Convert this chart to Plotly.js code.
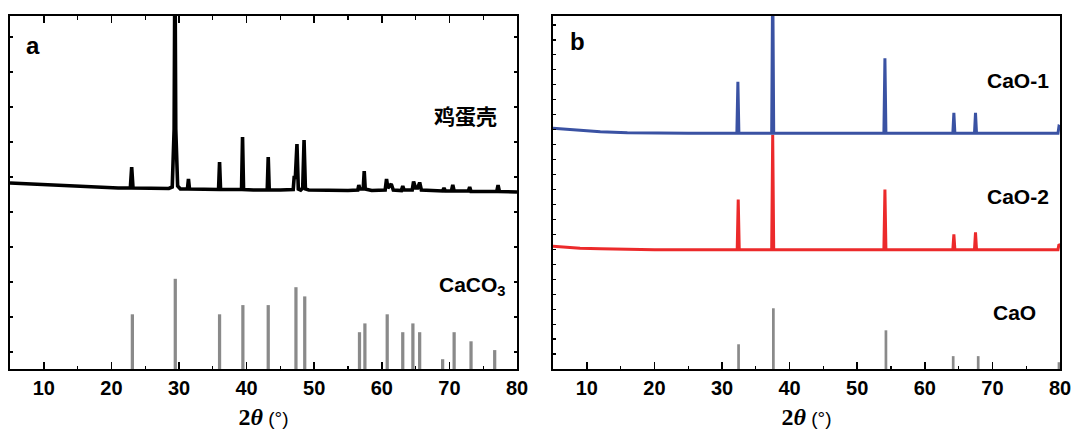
<!DOCTYPE html>
<html>
<head>
<meta charset="utf-8">
<script src="https://cdn.plot.ly/plotly-3.0.1.min.js"></script>
<style>html,body{margin:0;padding:0;background:#fff;}#chart{width:1073px;height:433px;}</style>
</head>
<body>
<div id="chart"></div>
<script>
// ---- Panel a: eggshell XRD pattern (2θ, intensity a.u.) ----
const eggX = [5,6.5,8,10,12.5,15,18,21,22.8,23.0,23.2,26,28.5,29.0,29.28,29.4,29.52,29.8,30.2,31.25,31.4,31.55,34,35.85,36.0,36.15,38,39.25,39.4,39.55,41,43.05,43.2,43.35,45,46.9,47.05,47.2,47.45,47.65,48.0,48.3,48.5,48.7,49.2,52,55,56.45,56.6,56.75,57.25,57.4,57.55,58.5,60.5,60.7,60.9,61.4,61.7,62.9,63.1,63.3,64.5,64.7,65.0,65.3,65.6,65.85,69.0,69.2,69.4,70.3,70.5,70.7,72.8,73.0,73.2,77.0,77.2,77.4,80];
const eggY = [186,185.5,185,184,183,182.3,181.5,181,181,202,181,180.5,180.5,182,240,420,240,183,180,180,190,180,179.5,179.5,207,179.5,179.5,179.5,232,179.5,179,179,212,179,179,179.5,193,190,225,180,179,181,229,180,179,178.5,178.5,179,184,180,180,198,180,178.5,179,190,181,185,179,178.5,183,179,179,187.5,181,181,186.5,179,178,181,178,178,184,178,178,182,177.5,177.5,184,177.5,177];

// CaCO3 reference sticks
const caco3X = [23.1,29.45,36.0,39.45,43.2,47.3,48.6,56.7,57.5,60.8,63.1,64.6,65.6,69.0,70.7,73.2,76.7];
const caco3Y = [54.7,90.2,54.7,63.9,63.9,81.8,72.6,36.8,45.6,54.7,36.8,45.6,36.8,9.8,36.8,27.7,18.9];

// ---- Panel b ----
const cao1X = [5,7,9,12,16,20,25,32.2,32.35,32.5,37.35,37.5,37.65,53.95,54.1,54.25,64.15,64.3,64.45,67.35,67.5,67.65,79.7,79.85,80];
const cao1Y = [241.5,240.3,239.2,238,237,236.5,236.3,236.3,288,236.3,236.3,400,236.3,236.3,311.5,236.3,236.3,257,236.3,236.3,257,236.3,236.3,243.5,243];

const cao2X = [5,7,9,12,16,20,32.25,32.4,32.55,37.35,37.5,37.65,53.95,54.1,54.25,64.15,64.3,64.45,67.35,67.5,67.65,79.7,79.85,80];
const cao2Y = [123,122,121.2,120.5,120,119.7,119.7,170,119.7,119.7,235,119.7,119.7,180,119.7,119.7,135,119.7,119.7,137,119.7,119.7,125,124];

// CaO reference sticks
const caoX = [32.45,37.6,54.25,64.2,67.9,79.85];
const caoY = [24.8,60.9,38.8,12.9,12.9,6.8];

const tickLabels = ['10','20','30','40','50','60','70','80'];
const tickVals = [10,20,30,40,50,60,70,80];

const traces = [
  {type:'bar', x:caco3X, y:caco3Y, xaxis:'x', yaxis:'y', width:0.48, marker:{color:'#8a8a8a', line:{width:0}}, hoverinfo:'skip'},
  {type:'scatter', mode:'lines', x:eggX, y:eggY, xaxis:'x', yaxis:'y', line:{color:'#000000', width:3.6}},
  {type:'bar', x:caoX, y:caoY, xaxis:'x2', yaxis:'y2', width:0.4, marker:{color:'#8a8a8a', line:{width:0}}, hoverinfo:'skip'},
  {type:'scatter', mode:'lines', x:cao2X, y:cao2Y, xaxis:'x2', yaxis:'y2', line:{color:'#ec2a2b', width:3}},
  {type:'scatter', mode:'lines', x:cao1X, y:cao1Y, xaxis:'x2', yaxis:'y2', line:{color:'#3a52a3', width:3}}
];

const tickFont = {family:'Liberation Sans, Arial, sans-serif', size:20, weight:'bold', color:'#000'};
const titleText = '<b>2</b><b><i>θ</i></b><span style="font-family:Liberation Sans;font-size:19px"> (°)</span>';

function xax(domain, anchor, mirror){
  return {
    domain:domain, anchor:anchor, range:[5,80], tickvals:tickVals, ticktext:tickLabels,
    ticks:'inside', ticklen:7, tickwidth:1.6, tickcolor:'#000',
    minor:{tickvals:[15,25,35,45,55,65,75], ticks:'inside', ticklen:3.5, tickwidth:1.3, tickcolor:'#000'},
    showline:true, linecolor:'#000', linewidth:1.6, mirror:mirror,
    showgrid:false, zeroline:false, tickfont:tickFont,
    title:{text:titleText, font:{family:'Liberation Serif, Times New Roman, serif', size:24, color:'#000'}, standoff:10}
  };
}
function yax(anchor, range, tick0, dtick, mirror){
  return {
    anchor:anchor, domain:[0,1], range:range, showticklabels:false,
    ticks:'inside', ticklen:3, tickwidth:1.2, tickcolor:'#000', tick0:tick0, dtick:dtick,
    showline:true, linecolor:'#000', linewidth:1.6, mirror:mirror,
    showgrid:false, zeroline:false
  };
}

const lblFont = {family:'Liberation Sans, Arial, sans-serif', size:21, weight:'bold', color:'#000'};
const annotations = [
  {xref:'x', yref:'y', x:8.4, y:324, text:'a', showarrow:false, font:{...lblFont, size:24}},
  {xref:'x', yref:'y', x:77.3, y:254, xanchor:'right', text:'鸡蛋壳', showarrow:false, font:{family:'Noto Sans CJK SC, sans-serif', size:21, weight:'bold', color:'#000'}},
  {xref:'x', yref:'y', x:78.6, y:83, xanchor:'right', text:'CaCO<sub>3</sub>', showarrow:false, font:lblFont},
  {xref:'x2', yref:'y2', x:8.6, y:328, text:'b', showarrow:false, font:{...lblFont, size:24}},
  {xref:'x2', yref:'y2', x:78.6, y:289.5, xanchor:'right', text:'CaO-1', showarrow:false, font:lblFont},
  {xref:'x2', yref:'y2', x:78.6, y:173, xanchor:'right', text:'CaO-2', showarrow:false, font:lblFont},
  {xref:'x2', yref:'y2', x:76.7, y:57, xanchor:'right', text:'CaO', showarrow:false, font:lblFont}
];

const layout = {
  width:1073, height:433,
  margin:{l:0, r:0, t:16, b:64},
  paper_bgcolor:'#ffffff', plot_bgcolor:'#ffffff',
  showlegend:false, barmode:'overlay',
  xaxis: xax([10/1073, 517/1073], 'y', 'ticks'),
  yaxis: yax('x', [0,353], 17, 35, 'ticks'),
  xaxis2: xax([553/1073, 1060/1073], 'y2', true),
  yaxis2: yax('x2', [0,354], 0, 15, true),
  annotations: annotations
};

Plotly.newPlot('chart', traces, layout, {displayModeBar:false, staticPlot:true});
</script>
</body>
</html>
